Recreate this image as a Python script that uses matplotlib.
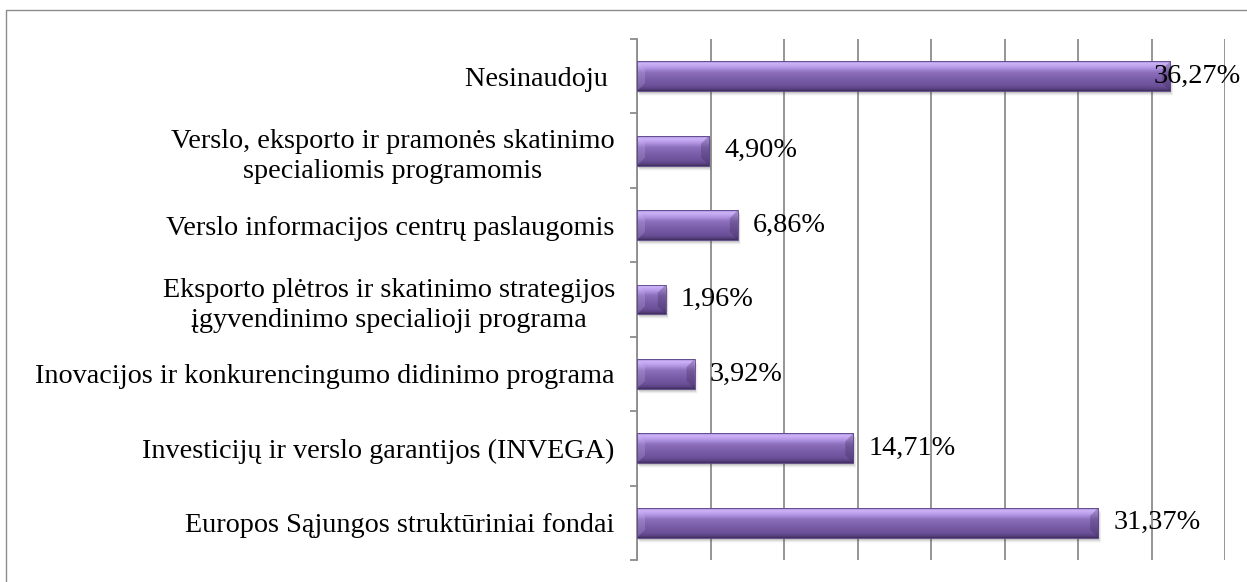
import numpy as np
import matplotlib
matplotlib.use("Agg")
import matplotlib.pyplot as plt
from matplotlib.colors import LinearSegmentedColormap
from matplotlib.patches import Rectangle, Polygon

categories = [
    "Nesinaudoju ",
    "Verslo, eksporto ir pramonės skatinimo\nspecialiomis programomis",
    "Verslo informacijos centrų paslaugomis",
    "Eksporto plėtros ir skatinimo strategijos\nįgyvendinimo specialioji programa",
    "Inovacijos ir konkurencingumo didinimo programa",
    "Investicijų ir verslo garantijos (INVEGA)",
    "Europos Sąjungos struktūriniai fondai",
]
values = [36.27, 4.90, 6.86, 1.96, 3.92, 14.71, 31.37]
value_labels = ["36,27%", "4,90%", "6,86%", "1,96%", "3,92%", "14,71%", "31,37%"]

W, H, DPI = 1247, 582, 100
FS = 20.3
fig = plt.figure(figsize=(W / DPI, H / DPI), dpi=DPI)
plt.rcParams['font.family'] = ['Liberation Serif', 'DejaVu Serif']

# outer chart border (only left/top visible)
fig.patches.append(Rectangle((6 / W, -0.05), 1.2, 1 - 10 / H + 0.05, transform=fig.transFigure,
                             fill=False, edgecolor='#8c8c8c', linewidth=1.0))

ax = fig.add_axes([637 / W, 1 - 560 / H, (1225 - 637) / W, (560 - 39) / H])
n = len(categories)
y = np.arange(n)
ax.set_xlim(0, 40)
ax.set_ylim(n - 0.5, -0.5)

for s in ['top', 'right', 'bottom']:
    ax.spines[s].set_visible(False)
ax.spines['left'].set_color('#8c8c8c')
ax.spines['left'].set_linewidth(1.3)

ax.set_xticks(np.arange(0, 41, 5))
ax.tick_params(axis='x', length=0, labelbottom=False)
ax.grid(axis='x', color='#8c8c8c', linewidth=1.3)
ax.set_axisbelow(True)

ax.set_yticks(y)
ax.set_yticklabels(categories, fontsize=FS, linespacing=1.3, multialignment='center')
ax.set_yticks(np.arange(-0.5, n, 1), minor=True)
ax.tick_params(axis='y', which='major', length=0, pad=16)
ax.tick_params(axis='y', which='minor', length=5, color='#8c8c8c', width=1.3, direction='out')

bh = 0.40
px_x = 40 / 588.0
px_y = 1 / 74.4

stops = [(0.0, '#9d82cf'), (0.07, '#cdb4f8'), (0.2, '#b89be9'), (0.38, '#8c6ebb'),
         (0.6, '#7b5ea9'), (0.85, '#6a4f97'), (0.95, '#553f7c'), (1.0, '#3e2e5c')]
cmap = LinearSegmentedColormap.from_list('bev', stops)
grad = np.linspace(0, 1, 80).reshape(-1, 1)

bars = ax.barh(y, values, height=bh, color='#7b5ea9', edgecolor='none', zorder=3)

for i, (rect, v) in enumerate(zip(bars, values)):
    x0, x1 = 0, v
    yt, yb = y[i] - bh / 2, y[i] + bh / 2
    # soft shadow
    for k, a in zip(range(1, 6), [0.18, 0.14, 0.10, 0.06, 0.03]):
        ax.add_patch(Rectangle((x0 + k * px_x * 0.6, yt + k * px_y), v, bh, facecolor='#404040',
                               alpha=a, edgecolor='none', zorder=2))
    im = ax.imshow(grad, cmap=cmap, extent=(x0, x1, yb, yt), origin='upper',
                   aspect='auto', zorder=4, interpolation='bilinear')
    im.set_clip_path(rect)
    b = min(8 * px_x, v / 2)
    bv = 8 * px_y
    # left bevel (lighter)
    ax.add_patch(Polygon([(x0, yt), (x0 + b, yt + bv), (x0 + b, yb - bv), (x0, yb)],
                         closed=True, facecolor='#d6c4f7', alpha=0.2, edgecolor='none', zorder=5))
    # right bevel (darker)
    ax.add_patch(Polygon([(x1, yt), (x1 - b, yt + bv), (x1 - b, yb - bv), (x1, yb)],
                         closed=True, facecolor='#3a2a58', alpha=0.3, edgecolor='none', zorder=5))
    ax.add_patch(Rectangle((x0, yt), v, bh, fill=False, edgecolor='#5a4585', linewidth=0.6, zorder=6))

ax.set_xlim(0, 40)
ax.set_ylim(n - 0.5, -0.5)

for i, (v, lab) in enumerate(zip(values, value_labels)):
    if v > 35:
        ax.annotate(lab, xy=(1.0, y[i]), xycoords=('axes fraction', 'data'),
                    xytext=(16 * 72 / DPI, 0), textcoords='offset points',
                    ha='right', va='center', fontsize=FS, zorder=7)
    else:
        ax.annotate(lab, xy=(v, y[i]), xytext=(15 * 72 / DPI, 0), textcoords='offset points',
                    ha='left', va='center', fontsize=FS, zorder=7)

fig.savefig('out.png', dpi=DPI)
